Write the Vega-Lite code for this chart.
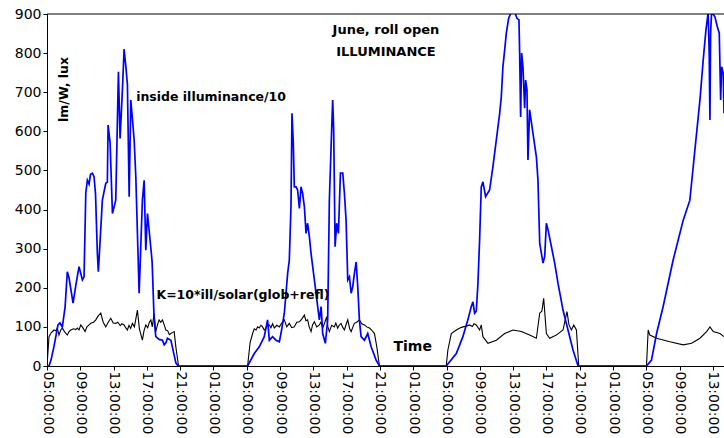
{
  "$schema": "https://vega.github.io/schema/vega-lite/v6.json",
  "width": 677,
  "height": 352,
  "autosize": {"type": "none"},
  "padding": {"left": 47, "top": 14, "right": 0, "bottom": 72},
  "background": "white",
  "config": {
    "view": {"stroke": null},
    "axis": {"grid": false, "domainColor": "black", "tickColor": "black", "labelColor": "black", "labelFont": "DejaVu Sans", "labelFontSize": 14, "tickSize": 4, "domainWidth": 1, "tickWidth": 1}
  },
  "datasets": {
    "black": [
      {"t": 0, "v": 0}, {"t": 0.24, "v": 75}, {"t": 0.5, "v": 85}, {"t": 0.84, "v": 92}, {"t": 1.05, "v": 90}, {"t": 1.24, "v": 97}, {"t": 1.44, "v": 79}, {"t": 1.65, "v": 92}, {"t": 1.84, "v": 97}, {"t": 2.1, "v": 88}, {"t": 2.44, "v": 79}, {"t": 2.65, "v": 88}, {"t": 2.85, "v": 92}, {"t": 3.2, "v": 95}, {"t": 3.45, "v": 93}, {"t": 3.65, "v": 97}, {"t": 3.85, "v": 92}, {"t": 4.05, "v": 105}, {"t": 4.3, "v": 98}, {"t": 4.57, "v": 88}, {"t": 4.8, "v": 100}, {"t": 5.05, "v": 105}, {"t": 5.3, "v": 110}, {"t": 5.6, "v": 112}, {"t": 5.86, "v": 118}, {"t": 6.15, "v": 128}, {"t": 6.46, "v": 135}, {"t": 6.75, "v": 112}, {"t": 7.06, "v": 100}, {"t": 7.35, "v": 112}, {"t": 7.66, "v": 122}, {"t": 7.95, "v": 110}, {"t": 8.26, "v": 109}, {"t": 8.5, "v": 112}, {"t": 8.8, "v": 103}, {"t": 9.0, "v": 108}, {"t": 9.26, "v": 105}, {"t": 9.45, "v": 98}, {"t": 9.66, "v": 92}, {"t": 9.85, "v": 104}, {"t": 10.05, "v": 96}, {"t": 10.26, "v": 109}, {"t": 10.5, "v": 100}, {"t": 10.86, "v": 143}, {"t": 11.1, "v": 95}, {"t": 11.46, "v": 66}, {"t": 11.65, "v": 90}, {"t": 11.87, "v": 105}, {"t": 12.1, "v": 98}, {"t": 12.3, "v": 112}, {"t": 12.48, "v": 118}, {"t": 12.65, "v": 100}, {"t": 12.87, "v": 135}, {"t": 13.07, "v": 88}, {"t": 13.27, "v": 105}, {"t": 13.47, "v": 118}, {"t": 13.67, "v": 112}, {"t": 13.87, "v": 118}, {"t": 14.08, "v": 105}, {"t": 14.28, "v": 92}, {"t": 14.5, "v": 90}, {"t": 14.7, "v": 80}, {"t": 14.88, "v": 83}, {"t": 15.1, "v": 86}, {"t": 15.28, "v": 88}, {"t": 15.48, "v": 49}, {"t": 15.8, "v": 0},
      {"t": 24.1, "v": 0}, {"t": 24.4, "v": 60}, {"t": 24.7, "v": 83}, {"t": 24.9, "v": 95}, {"t": 25.11, "v": 92}, {"t": 25.3, "v": 100}, {"t": 25.5, "v": 97}, {"t": 25.7, "v": 104}, {"t": 25.9, "v": 100}, {"t": 26.1, "v": 92}, {"t": 26.31, "v": 97}, {"t": 26.5, "v": 106}, {"t": 26.71, "v": 105}, {"t": 26.9, "v": 98}, {"t": 27.1, "v": 108}, {"t": 27.31, "v": 97}, {"t": 27.6, "v": 104}, {"t": 27.91, "v": 100}, {"t": 28.2, "v": 110}, {"t": 28.51, "v": 118}, {"t": 28.8, "v": 100}, {"t": 29.11, "v": 109}, {"t": 29.4, "v": 98}, {"t": 29.71, "v": 100}, {"t": 30.0, "v": 112}, {"t": 30.32, "v": 113}, {"t": 30.6, "v": 120}, {"t": 30.92, "v": 130}, {"t": 31.1, "v": 116}, {"t": 31.31, "v": 118}, {"t": 31.5, "v": 100}, {"t": 31.72, "v": 88}, {"t": 31.9, "v": 105}, {"t": 32.12, "v": 113}, {"t": 32.4, "v": 100}, {"t": 32.72, "v": 105}, {"t": 32.9, "v": 112}, {"t": 33.12, "v": 97}, {"t": 33.35, "v": 110}, {"t": 33.6, "v": 126}, {"t": 33.75, "v": 100}, {"t": 33.92, "v": 88}, {"t": 34.2, "v": 104}, {"t": 34.52, "v": 100}, {"t": 34.7, "v": 110}, {"t": 34.92, "v": 97}, {"t": 35.1, "v": 104}, {"t": 35.33, "v": 109}, {"t": 35.5, "v": 100}, {"t": 35.73, "v": 92}, {"t": 35.93, "v": 106}, {"t": 36.13, "v": 118}, {"t": 36.35, "v": 96}, {"t": 36.54, "v": 88}, {"t": 36.75, "v": 100}, {"t": 36.93, "v": 109}, {"t": 37.2, "v": 112}, {"t": 37.53, "v": 118}, {"t": 37.8, "v": 108}, {"t": 38.14, "v": 105}, {"t": 38.4, "v": 100}, {"t": 38.74, "v": 97}, {"t": 39.0, "v": 92}, {"t": 39.34, "v": 83}, {"t": 39.62, "v": 49}, {"t": 39.94, "v": 0},
      {"t": 47.96, "v": 0}, {"t": 48.16, "v": 41}, {"t": 48.57, "v": 83}, {"t": 49.17, "v": 92}, {"t": 49.6, "v": 97}, {"t": 49.96, "v": 100}, {"t": 50.4, "v": 102}, {"t": 50.77, "v": 105}, {"t": 51.1, "v": 101}, {"t": 51.3, "v": 108}, {"t": 51.57, "v": 105}, {"t": 51.97, "v": 92}, {"t": 52.17, "v": 105}, {"t": 52.37, "v": 75}, {"t": 52.97, "v": 58}, {"t": 53.98, "v": 66}, {"t": 54.98, "v": 83}, {"t": 55.98, "v": 92}, {"t": 56.99, "v": 88}, {"t": 57.98, "v": 79}, {"t": 58.79, "v": 71}, {"t": 59.19, "v": 135}, {"t": 59.45, "v": 140}, {"t": 59.67, "v": 173}, {"t": 59.99, "v": 83}, {"t": 60.39, "v": 71}, {"t": 61.19, "v": 79}, {"t": 61.99, "v": 92}, {"t": 62.47, "v": 139}, {"t": 62.71, "v": 105}, {"t": 63.0, "v": 92}, {"t": 63.28, "v": 105}, {"t": 63.6, "v": 92}, {"t": 63.88, "v": 0},
      {"t": 72.02, "v": 0}, {"t": 72.22, "v": 92}, {"t": 72.42, "v": 79}, {"t": 73.23, "v": 71}, {"t": 74.83, "v": 62}, {"t": 76.43, "v": 54}, {"t": 77.44, "v": 58}, {"t": 78.44, "v": 71}, {"t": 79.24, "v": 88}, {"t": 79.64, "v": 100}, {"t": 80.04, "v": 88}, {"t": 80.84, "v": 83}, {"t": 81.33, "v": 75}
    ],
    "blue": [
      {"t": 0, "v": 0}, {"t": 0.24, "v": 0}, {"t": 0.48, "v": 15}, {"t": 0.84, "v": 50}, {"t": 1.32, "v": 105}, {"t": 1.56, "v": 110}, {"t": 1.84, "v": 100}, {"t": 2.17, "v": 150}, {"t": 2.44, "v": 241}, {"t": 2.65, "v": 225}, {"t": 3.13, "v": 161}, {"t": 3.49, "v": 210}, {"t": 3.85, "v": 254}, {"t": 4.25, "v": 220}, {"t": 4.45, "v": 228}, {"t": 4.66, "v": 442}, {"t": 4.85, "v": 475}, {"t": 5.05, "v": 465}, {"t": 5.23, "v": 490}, {"t": 5.45, "v": 493}, {"t": 5.65, "v": 484}, {"t": 5.83, "v": 440}, {"t": 6.05, "v": 288}, {"t": 6.17, "v": 241}, {"t": 6.38, "v": 320}, {"t": 6.65, "v": 424}, {"t": 7.06, "v": 467}, {"t": 7.25, "v": 470}, {"t": 7.34, "v": 616}, {"t": 7.58, "v": 570}, {"t": 7.86, "v": 390}, {"t": 8.26, "v": 424}, {"t": 8.58, "v": 752}, {"t": 8.78, "v": 582}, {"t": 9.06, "v": 706}, {"t": 9.26, "v": 810}, {"t": 9.47, "v": 766}, {"t": 9.66, "v": 720}, {"t": 9.87, "v": 433}, {"t": 10.07, "v": 680}, {"t": 10.47, "v": 578}, {"t": 10.67, "v": 484}, {"t": 11.07, "v": 186}, {"t": 11.46, "v": 424}, {"t": 11.67, "v": 475}, {"t": 11.87, "v": 296}, {"t": 12.07, "v": 390}, {"t": 12.48, "v": 301}, {"t": 12.63, "v": 266}, {"t": 12.87, "v": 118}, {"t": 13.07, "v": 75}, {"t": 13.47, "v": 68}, {"t": 13.87, "v": 66}, {"t": 14.08, "v": 54}, {"t": 14.28, "v": 59}, {"t": 14.47, "v": 71}, {"t": 14.88, "v": 66}, {"t": 15.48, "v": 8}, {"t": 15.76, "v": 0},
      {"t": 24.1, "v": 0}, {"t": 24.9, "v": 32}, {"t": 25.5, "v": 49}, {"t": 26.1, "v": 75}, {"t": 26.5, "v": 118}, {"t": 26.71, "v": 66}, {"t": 27.1, "v": 75}, {"t": 27.51, "v": 66}, {"t": 27.91, "v": 62}, {"t": 28.11, "v": 83}, {"t": 28.51, "v": 135}, {"t": 28.91, "v": 237}, {"t": 29.11, "v": 271}, {"t": 29.31, "v": 407}, {"t": 29.43, "v": 646}, {"t": 29.59, "v": 569}, {"t": 29.71, "v": 458}, {"t": 29.92, "v": 458}, {"t": 30.11, "v": 450}, {"t": 30.32, "v": 403}, {"t": 30.52, "v": 458}, {"t": 30.71, "v": 441}, {"t": 30.92, "v": 407}, {"t": 31.12, "v": 339}, {"t": 31.31, "v": 365}, {"t": 31.52, "v": 331}, {"t": 31.72, "v": 288}, {"t": 32.12, "v": 220}, {"t": 32.52, "v": 152}, {"t": 32.72, "v": 118}, {"t": 32.93, "v": 152}, {"t": 33.12, "v": 83}, {"t": 33.44, "v": 58}, {"t": 33.72, "v": 118}, {"t": 33.92, "v": 424}, {"t": 34.13, "v": 561}, {"t": 34.32, "v": 680}, {"t": 34.44, "v": 603}, {"t": 34.61, "v": 305}, {"t": 34.8, "v": 365}, {"t": 35.01, "v": 339}, {"t": 35.25, "v": 493}, {"t": 35.53, "v": 493}, {"t": 35.73, "v": 441}, {"t": 35.93, "v": 373}, {"t": 36.13, "v": 220}, {"t": 36.33, "v": 228}, {"t": 36.54, "v": 186}, {"t": 36.73, "v": 203}, {"t": 36.93, "v": 237}, {"t": 37.14, "v": 266}, {"t": 37.33, "v": 203}, {"t": 37.53, "v": 118}, {"t": 37.73, "v": 75}, {"t": 38.14, "v": 66}, {"t": 38.53, "v": 83}, {"t": 38.94, "v": 49}, {"t": 39.54, "v": 15}, {"t": 39.94, "v": 0},
      {"t": 47.96, "v": 0}, {"t": 49.17, "v": 32}, {"t": 49.96, "v": 75}, {"t": 50.56, "v": 118}, {"t": 50.97, "v": 152}, {"t": 51.17, "v": 164}, {"t": 51.37, "v": 135}, {"t": 51.57, "v": 140}, {"t": 51.77, "v": 211}, {"t": 51.97, "v": 322}, {"t": 52.17, "v": 458}, {"t": 52.37, "v": 471}, {"t": 52.69, "v": 433}, {"t": 53.17, "v": 450}, {"t": 53.57, "v": 510}, {"t": 53.98, "v": 578}, {"t": 54.38, "v": 646}, {"t": 54.58, "v": 689}, {"t": 54.77, "v": 765}, {"t": 54.98, "v": 808}, {"t": 55.18, "v": 851}, {"t": 55.46, "v": 889}, {"t": 55.78, "v": 905}, {"t": 56.18, "v": 905}, {"t": 56.46, "v": 889}, {"t": 56.7, "v": 885}, {"t": 56.78, "v": 800}, {"t": 56.9, "v": 637}, {"t": 57.02, "v": 800}, {"t": 57.18, "v": 765}, {"t": 57.38, "v": 659}, {"t": 57.5, "v": 731}, {"t": 57.66, "v": 706}, {"t": 57.78, "v": 527}, {"t": 57.98, "v": 655}, {"t": 58.38, "v": 595}, {"t": 58.79, "v": 535}, {"t": 58.98, "v": 476}, {"t": 59.19, "v": 314}, {"t": 59.59, "v": 263}, {"t": 59.79, "v": 280}, {"t": 59.99, "v": 365}, {"t": 60.19, "v": 348}, {"t": 60.6, "v": 305}, {"t": 60.99, "v": 263}, {"t": 61.39, "v": 211}, {"t": 61.99, "v": 143}, {"t": 62.59, "v": 92}, {"t": 63.19, "v": 41}, {"t": 63.8, "v": 0},
      {"t": 72.02, "v": 0}, {"t": 72.62, "v": 15}, {"t": 73.23, "v": 83}, {"t": 74.02, "v": 152}, {"t": 75.22, "v": 271}, {"t": 76.43, "v": 373}, {"t": 77.23, "v": 424}, {"t": 77.83, "v": 552}, {"t": 78.44, "v": 680}, {"t": 78.83, "v": 782}, {"t": 79.16, "v": 859}, {"t": 79.43, "v": 905}, {"t": 79.55, "v": 800}, {"t": 79.64, "v": 629}, {"t": 79.72, "v": 851}, {"t": 79.84, "v": 905}, {"t": 80.24, "v": 893}, {"t": 80.52, "v": 868}, {"t": 80.76, "v": 851}, {"t": 80.93, "v": 680}, {"t": 81.05, "v": 765}, {"t": 81.24, "v": 748}, {"t": 81.33, "v": 646}
    ]
  },
  "layer": [
    {
      "data": {"name": "black"},
      "mark": {"type": "line", "color": "black", "strokeWidth": 1.1, "clip": true},
      "encoding": {
        "x": {"field": "t", "type": "quantitative", "scale": {"domain": [0, 81.33], "nice": false, "zero": false},
          "axis": {"title": null, "values": [0, 4, 8, 12, 16, 20, 24, 28, 32, 36, 40, 44, 48, 52, 56, 60, 64, 68, 72, 76, 80], "tickCount": 100, "labelAngle": 90, "labelPadding": 1, "labelOverlap": false, "labelFlush": false, "labelBound": false,
            "labelExpr": "((((datum.value+5)%24)<10)?'0':'') + ((datum.value+5)%24) + ':00:00'"}},
        "y": {"field": "v", "type": "quantitative", "scale": {"domain": [0, 900], "nice": false},
          "axis": {"title": null, "values": [0, 100, 200, 300, 400, 500, 600, 700, 800, 900], "tickCount": 100, "labelPadding": 2, "labelOverlap": false, "labelFlush": false, "labelBound": false}}
      }
    },
    {
      "data": {"name": "blue"},
      "mark": {"type": "line", "color": "#0000FF", "strokeWidth": 1.7, "clip": true},
      "encoding": {
        "x": {"field": "t", "type": "quantitative"},
        "y": {"field": "v", "type": "quantitative"}
      }
    },
    {
      "data": {"values": [{"v": 900}]},
      "mark": {"type": "rule", "color": "black", "strokeWidth": 1},
      "encoding": {"y": {"field": "v", "type": "quantitative"}}
    },
    {
      "data": {"values": [{"t": 2.05, "v": 707, "label": "lm/W, lux"}]},
      "mark": {"type": "text", "font": "DejaVu Sans", "fontWeight": "bold", "fontSize": 12.5, "angle": 270, "align": "center", "baseline": "middle", "color": "black"},
      "encoding": {"x": {"field": "t", "type": "quantitative"}, "y": {"field": "v", "type": "quantitative"}, "text": {"field": "label"}}
    },
    {
      "data": {"values": [{"t": 10.71, "v": 688, "label": "inside illuminance/10"}, {"t": 13.15, "v": 181, "label": "K=10*ill/solar(glob+refl)"}]},
      "mark": {"type": "text", "font": "DejaVu Sans", "fontWeight": "bold", "fontSize": 12.5, "align": "left", "baseline": "middle", "color": "black"},
      "encoding": {"x": {"field": "t", "type": "quantitative"}, "y": {"field": "v", "type": "quantitative"}, "text": {"field": "label"}}
    },
    {
      "data": {"values": [{"t": 41.62, "v": 48, "label": "Time"}]},
      "mark": {"type": "text", "font": "DejaVu Sans", "fontWeight": "bold", "fontSize": 14, "align": "left", "baseline": "middle", "color": "black"},
      "encoding": {"x": {"field": "t", "type": "quantitative"}, "y": {"field": "v", "type": "quantitative"}, "text": {"field": "label"}}
    },
    {
      "data": {"values": [{"t": 40.72, "v": 859, "label": "June, roll open"}, {"t": 40.72, "v": 803, "label": "ILLUMINANCE"}]},
      "mark": {"type": "text", "font": "DejaVu Sans", "fontWeight": "bold", "fontSize": 13, "align": "center", "baseline": "middle", "color": "black"},
      "encoding": {"x": {"field": "t", "type": "quantitative"}, "y": {"field": "v", "type": "quantitative"}, "text": {"field": "label"}}
    }
  ]
}
